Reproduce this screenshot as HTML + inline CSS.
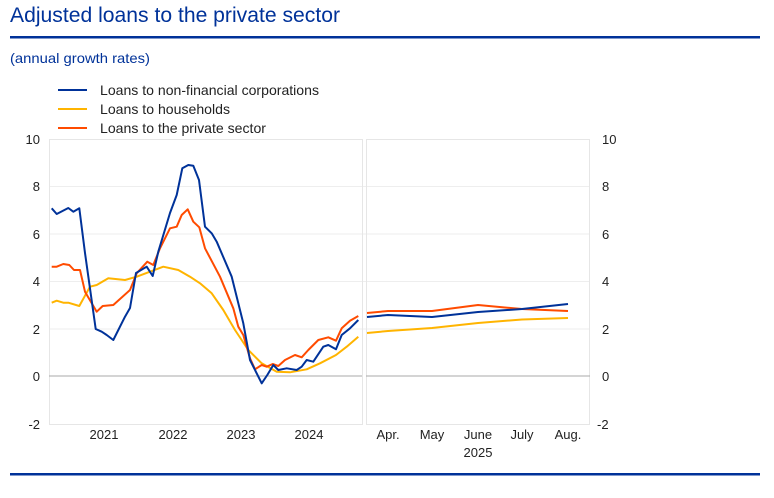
<!DOCTYPE html><html><head><meta charset="utf-8"><style>
body{margin:0;background:#fff;width:774px;height:493px;overflow:hidden;font-family:"Liberation Sans",sans-serif}
</style></head><body>
<svg width="774" height="493" xmlns="http://www.w3.org/2000/svg" font-family="Liberation Sans, sans-serif">
<text x="10" y="22" font-size="21" fill="#003299" textLength="330" lengthAdjust="spacingAndGlyphs">Adjusted loans to the private sector</text>
<rect x="10" y="36" width="750" height="2.5" fill="#003299"/>
<text x="10" y="63" font-size="14" fill="#003299" textLength="140" lengthAdjust="spacingAndGlyphs">(annual growth rates)</text>
<g font-size="14" fill="#222">
<line x1="58" y1="90" x2="87" y2="90" stroke="#003299" stroke-width="2"/><text x="100" y="95" textLength="219" lengthAdjust="spacingAndGlyphs">Loans to non-financial corporations</text>
<line x1="58" y1="109" x2="87" y2="109" stroke="#ffb400" stroke-width="2"/><text x="100" y="114" textLength="130" lengthAdjust="spacingAndGlyphs">Loans to households</text>
<line x1="58" y1="128" x2="87" y2="128" stroke="#ff4b00" stroke-width="2"/><text x="100" y="133" textLength="166" lengthAdjust="spacingAndGlyphs">Loans to the private sector</text>
</g>
<g stroke="#eee" stroke-width="1">
<line x1="49" y1="186.5" x2="590" y2="186.5"/><line x1="49" y1="234" x2="590" y2="234"/><line x1="49" y1="281.5" x2="590" y2="281.5"/><line x1="49" y1="329" x2="590" y2="329"/>
</g>
<rect x="49.5" y="139.5" width="313" height="285" fill="none" stroke="#e6e6e6"/>
<rect x="366.5" y="139.5" width="223" height="285" fill="none" stroke="#e6e6e6"/>
<line x1="49" y1="376" x2="362" y2="376" stroke="#aaa"/><line x1="366" y1="376" x2="590" y2="376" stroke="#aaa"/>
<g font-size="13" fill="#222" text-anchor="end">
<text x="40" y="144">10</text><text x="40" y="191">8</text><text x="40" y="239">6</text><text x="40" y="286">4</text><text x="40" y="334">2</text><text x="40" y="381">0</text><text x="40" y="429">-2</text>
</g>
<g font-size="13" fill="#222">
<text x="602" y="144">10</text><text x="602" y="191">8</text><text x="602" y="239">6</text><text x="602" y="286">4</text><text x="602" y="334">2</text><text x="602" y="381">0</text><text x="597" y="429">-2</text>
</g>
<g font-size="13" fill="#222" text-anchor="middle">
<text x="104" y="439">2021</text><text x="173" y="439">2022</text><text x="241" y="439">2023</text><text x="309" y="439">2024</text>
<text x="388" y="439">Apr.</text><text x="432" y="439">May</text><text x="478" y="439">June</text><text x="522" y="439">July</text><text x="568" y="439">Aug.</text>
<text x="478" y="457">2025</text>
</g>
<g fill="none" stroke-width="2" stroke-linejoin="round">
<polyline stroke="#ffb400" points="51.7,302.7 56.7,300.7 63.3,302.7 68.3,302.7 79.3,306 90,286.7 96.7,285 108.3,278.3 125,280 136.7,276.7 150,271.7 163.3,266.7 178.3,270 190,276.7 200,283.3 211.7,293.3 223.3,310 235,330 248.3,350 261.7,363.3 276.7,371.7 290,372.3 306.7,369.3 320,363.3 336,355 346.7,346.7 358.3,336.7"/>
<polyline stroke="#ff4b00" points="51.7,266.7 56.7,266.7 63.3,264 69.3,265 74,270 80,270 85,291.7 96.7,311.7 102.7,306 113.3,305 130,290 136.7,273.3 147.3,261.7 153.3,265 160,248.3 170,228.3 176.7,226.7 181.7,215 187.7,209.3 193.3,221.7 199.3,227.3 205,248.3 220,276.7 233.3,308.3 238.3,326.7 243.3,335 250,358.3 255,369.3 261.7,365 266.7,366.7 272.7,364 278.3,366 285,360 295,355 301.7,357.3 308.3,350 318.3,340 328.3,337.3 336,340.7 341.7,328.3 350,320.7 358.3,316"/>
<polyline stroke="#003299" points="51.7,208.3 56.7,214 68.3,208 73.3,211.7 79.3,208.3 85,253 95.7,329 101.7,331.7 106.7,335 113.3,340 125,316.7 130,308 136,273 146.7,266.7 152.7,276 158.3,251.7 170,213 176.7,195 182.3,168.3 188.3,165 193.3,165.7 199,180 205,226.7 211.7,233.3 216.7,241.7 231.7,276.7 243.3,323.3 250,360 261.7,383.3 267.3,375 273.3,365 278.3,370 286.7,368.3 296.7,370 301.7,366.7 306.7,360 313.3,361.7 323.3,346.7 328.3,345 336,349.3 341.7,335 350,328.3 358.3,320"/>
<polyline stroke="#ffb400" points="367,333 388,331 432,328 478,323 522,319.5 568,318"/>
<polyline stroke="#ff4b00" points="367,313 388,311 432,311 478,305 522,309 568,311"/>
<polyline stroke="#003299" points="367,317 388,315 432,317 478,312 522,309 568,304"/>
</g>
<rect x="10" y="473" width="750" height="2.5" fill="#003299"/>
</svg>
</body></html>
